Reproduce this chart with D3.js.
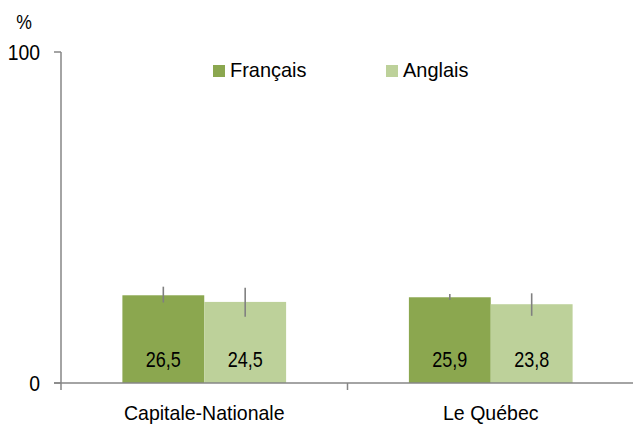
<!DOCTYPE html>
<html>
<head>
<meta charset="utf-8">
<script src="https://cdn.jsdelivr.net/npm/d3@7"></script>
<style>
  body { margin: 0; background: #fff; }
  text { font-family: "Liberation Sans", Arial, sans-serif; fill: #000; }
</style>
</head>
<body>
<svg id="chart" width="634" height="424"></svg>
<script>
var svg_w = 634;
var svg_h = 424;

// data
var categories = ["Capitale-Nationale", "Le Québec"];
var seriesNames = ["Français", "Anglais"];
var seriesColors = ["#8ba74f", "#bdd19a"];
var francais = [26.5, 25.9];
var anglais = [24.5, 23.8];
var francaisLow = [24.3, 25.1];
var francaisHigh = [29.1, 26.9];
var anglaisLow = [20.0, 20.3];
var anglaisHigh = [28.8, 27.1];
var yTicks = [0, 100];

var svg = d3.select('#chart');
var mLeft = 61, mRight = 634, mTop = 52, mBottom = 383;
var axisColor = '#868686';

var x = d3.scaleBand()
    .domain(categories)
    .range([mLeft, mRight]);
var inner = d3.scaleBand()
    .domain(seriesNames)
    .range([0, x.bandwidth()])
    .paddingOuter(0.75)
    .paddingInner(0);
var y = d3.scaleLinear()
    .domain([0, 100])
    .range([mBottom, mTop]);

// narrow text helper, the original font is a condensed one
function ntext(sel, px, py, size, sx, anchor, str) {
    return sel.append('text')
        .attr('transform', 'translate(' + px + ',' + py + ') scale(' + sx + ',1)')
        .attr('text-anchor', anchor)
        .style('font-size', size + 'px')
        .text(str);
}

var flat = [];
categories.forEach(function(c, i) {
    flat.push({cat: c, s: seriesNames[0], v: francais[i], lo: francaisLow[i], hi: francaisHigh[i], col: seriesColors[0]});
    flat.push({cat: c, s: seriesNames[1], v: anglais[i], lo: anglaisLow[i], hi: anglaisHigh[i], col: seriesColors[1]});
});
function cx(d) { return x(d.cat) + inner(d.s) + inner.bandwidth() / 2; }

// bars
svg.append('g').selectAll('rect')
    .data(flat)
    .enter().append('rect')
    .attr('x', function(d) { return x(d.cat) + inner(d.s); })
    .attr('y', function(d) { return y(d.v); })
    .attr('width', inner.bandwidth())
    .attr('height', function(d) { return y(0) - y(d.v); })
    .attr('fill', function(d) { return d.col; });

// error bars
svg.append('g').selectAll('line')
    .data(flat)
    .enter().append('line')
    .attr('x1', cx)
    .attr('x2', cx)
    .attr('y1', function(d) { return y(d.lo); })
    .attr('y2', function(d) { return y(d.hi); })
    .attr('stroke', '#808080')
    .attr('stroke-width', 1.6);

// value labels
var lab = svg.append('g');
flat.forEach(function(d) {
    ntext(lab, cx(d), 367, 22, 0.82, 'middle', d3.format('.1f')(d.v).replace('.', ','));
});

// y axis
var yAxis = svg.append('g');
yAxis.append('line')
    .attr('x1', mLeft).attr('x2', mLeft)
    .attr('y1', y(100)).attr('y2', y(0))
    .attr('stroke', axisColor).attr('stroke-width', 1.5);
yAxis.selectAll('line.tick')
    .data(yTicks)
    .enter().append('line')
    .attr('class', 'tick')
    .attr('x1', mLeft - 7).attr('x2', mLeft)
    .attr('y1', function(d) { return y(d); })
    .attr('y2', function(d) { return y(d); })
    .attr('stroke', axisColor).attr('stroke-width', 1.5);
yTicks.forEach(function(t) {
    ntext(yAxis, 40, y(t) + 8, 22, 0.88, 'end', t);
});
ntext(svg, 24, 29, 20, 0.88, 'middle', '%');

// x axis
var xAxis = svg.append('g');
xAxis.append('line')
    .attr('x1', mLeft - 7).attr('x2', mRight - 1)
    .attr('y1', mBottom).attr('y2', mBottom)
    .attr('stroke', axisColor).attr('stroke-width', 1.5);
xAxis.selectAll('line.tick')
    .data(categories)
    .enter().append('line')
    .attr('class', 'tick')
    .attr('x1', function(d) { return x(d); })
    .attr('x2', function(d) { return x(d); })
    .attr('y1', mBottom).attr('y2', mBottom + 7)
    .attr('stroke', axisColor).attr('stroke-width', 1.5);
categories.forEach(function(c) {
    ntext(xAxis, x(c) + x.bandwidth() / 2, 420, 21, 0.93, 'middle', c);
});

// legend
var legendX = [213, 386];
var legend = svg.append('g');
seriesNames.forEach(function(s, i) {
    legend.append('rect')
        .attr('x', legendX[i]).attr('y', 65)
        .attr('width', 12).attr('height', 12)
        .attr('fill', seriesColors[i]);
    ntext(legend, legendX[i] + 17, 77, 21, 0.95, 'start', s);
});
</script>
</body>
</html>
